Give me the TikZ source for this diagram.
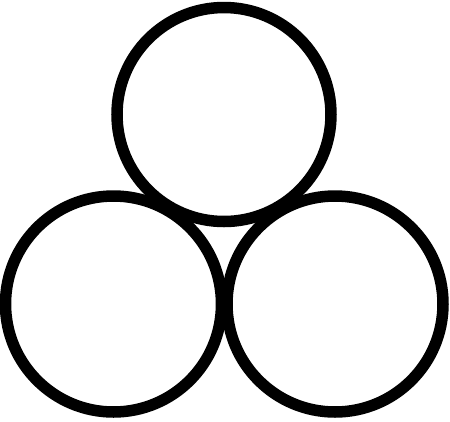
\documentclass[tikz,border=0pt]{standalone}
\begin{document}
\begin{tikzpicture}[x=1pt,y=-1pt,ring/.style={draw=black,line width=11.5pt}]
\useasboundingbox (0,0) rectangle (450,421);
\fill[white] (0,0) rectangle (450,421);
\draw[ring] (224,114.5) circle[radius=107];
\draw[ring] (113.5,304) circle[radius=108];
\draw[ring] (335,304) circle[radius=108];
\end{tikzpicture}
\end{document}
